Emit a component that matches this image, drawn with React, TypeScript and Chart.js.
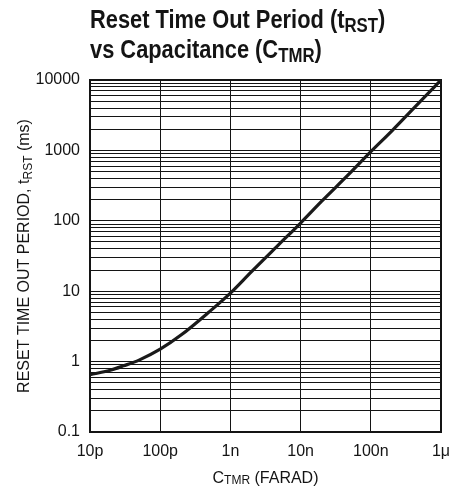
import React, { useEffect, useRef } from 'react';
import { Chart, registerables } from 'chart.js';

Chart.register(...registerables);

// Capacitance C_TMR (F) and reset time-out period t_RST (ms)
const capacitance = [1e-11, 2e-11, 3e-11, 5e-11, 1e-10, 2e-10, 5e-10, 1e-9, 2e-9, 5e-9, 1e-8, 2e-8, 5e-8, 1e-7, 2e-7, 5e-7, 1e-6];
const resetTime = [0.65, 0.76, 0.87, 1.05, 1.5, 2.4, 5.1, 9.4, 19, 47, 93, 190, 470, 960, 1900, 4900, 10000];

const xTickValues = [1e-11, 1e-10, 1e-9, 1e-8, 1e-7, 1e-6];
const xTickLabels = ['10p', '100p', '1n', '10n', '100n', '1μ'];
const yDecades = [0.1, 1, 10, 100, 1000, 10000];
const yTickLabels = ['0.1', '1', '10', '100', '1000', '10000'];
const yMinorSteps = [1, 2, 3, 4, 5, 6, 7, 8, 9];

const FONT = '"Liberation Sans", Arial, sans-serif';
const TITLE_FONT = '"Liberation Sans", Arial, sans-serif';
const INK = '#141414';

type Seg = { t: string; sub?: boolean };

function drawRich(
  ctx: CanvasRenderingContext2D,
  segs: Seg[],
  x: number,
  y: number,
  size: number,
  subSize: number,
  subDrop: number,
  weight: string,
  family: string,
  align: 'left' | 'center',
  sx = 1
) {
  const fm = (s: boolean) => `${weight} ${s ? subSize : size}px ${family}`;
  let total = 0;
  for (const s of segs) {
    ctx.font = fm(!!s.sub);
    total += ctx.measureText(s.t).width;
  }
  ctx.save();
  ctx.translate(x, y);
  ctx.scale(sx, 1);
  let cx = align === 'center' ? -total / 2 : 0;
  ctx.textAlign = 'left';
  ctx.textBaseline = 'alphabetic';
  for (const s of segs) {
    ctx.font = fm(!!s.sub);
    ctx.fillText(s.t, cx, s.sub ? subDrop : 0);
    cx += ctx.measureText(s.t).width;
  }
  ctx.restore();
}

const decorPlugin = {
  id: 'decor',
  beforeDatasetsDraw(chart: any) {
    const { ctx, chartArea: a } = chart;
    ctx.save();
    ctx.strokeStyle = INK;
    ctx.lineWidth = 2;
    ctx.strokeRect(a.left, a.top, a.right - a.left, a.bottom - a.top);
    ctx.restore();
  },
  afterDraw(chart: any) {
    const { ctx, chartArea: a } = chart;
    ctx.save();
    ctx.fillStyle = INK;
    drawRich(ctx, [{ t: 'Reset Time Out Period (t' }, { t: 'RST', sub: true }, { t: ')' }], 90, 28, 26, 20, 4, 'bold', TITLE_FONT, 'left', 0.84);
    drawRich(ctx, [{ t: 'vs Capacitance (C' }, { t: 'TMR', sub: true }, { t: ')' }], 90, 58, 26, 20, 4, 'bold', TITLE_FONT, 'left', 0.84);
    // x axis title
    drawRich(ctx, [{ t: 'C' }, { t: 'TMR', sub: true }, { t: ' (FARAD)' }], (a.left + a.right) / 2, 483, 16, 12, 1, 'normal', FONT, 'center');
    // y axis title
    ctx.translate(29, (a.top + a.bottom) / 2);
    ctx.rotate(-Math.PI / 2);
    drawRich(ctx, [{ t: 'RESET TIME OUT PERIOD, t' }, { t: 'RST', sub: true }, { t: ' (ms)' }], 0, 0, 16, 12, 3, 'normal', FONT, 'center');
    ctx.restore();
  },
};

function isClose(a: number, b: number) {
  return Math.abs(Math.log10(a) - Math.log10(b)) < 1e-6;
}

export default function App() {
  const ref = useRef<HTMLCanvasElement | null>(null);

  useEffect(() => {
    if (!ref.current) return;
    const yTicks: number[] = [];
    yDecades.forEach((d, i) => {
      if (i === yDecades.length - 1) {
        yTicks.push(d);
      } else {
        yMinorSteps.forEach((m) => yTicks.push(+(d * m).toPrecision(6)));
      }
    });

    const chart = new Chart(ref.current, {
      type: 'line',
      data: {
        datasets: [
          {
            data: capacitance.map((c, i) => ({ x: c, y: resetTime[i] })),
            borderColor: '#1a1a1a',
            borderWidth: 3.2,
            pointRadius: 0,
            cubicInterpolationMode: 'monotone',
            fill: false,
          },
        ],
      },
      options: {
        responsive: false,
        animation: false,
        devicePixelRatio: 1,
        layout: { padding: { top: 80, right: 23, left: 0, bottom: 0 } },
        plugins: { legend: { display: false }, tooltip: { enabled: false }, title: { display: false } },
        scales: {
          x: {
            type: 'logarithmic',
            min: 1e-11,
            max: 1e-6,
            afterFit: (s: any) => {
              s.height = 57;
            },
            afterBuildTicks: (s: any) => {
              s.ticks = xTickValues.map((v) => ({ value: v }));
            },
            grid: { color: INK, lineWidth: 1, drawTicks: false },
            border: { display: false },
            ticks: {
              autoSkip: false,
              maxRotation: 0,
              padding: 10,
              color: INK,
              font: { family: FONT, size: 16 },
              callback: (v: any) => {
                const i = xTickValues.findIndex((t) => isClose(t, Number(v)));
                return i >= 0 ? xTickLabels[i] : '';
              },
            },
          },
          y: {
            type: 'logarithmic',
            min: 0.1,
            max: 10000,
            afterFit: (s: any) => {
              s.width = 90;
            },
            afterBuildTicks: (s: any) => {
              s.ticks = yTicks.map((v) => ({ value: v }));
            },
            grid: { color: INK, lineWidth: 1, drawTicks: false },
            border: { display: false },
            ticks: {
              autoSkip: false,
              padding: 10,
              color: INK,
              font: { family: FONT, size: 16 },
              callback: (v: any) => {
                const i = yDecades.findIndex((t) => isClose(t, Number(v)));
                return i >= 0 ? yTickLabels[i] : '';
              },
            },
          },
        },
      },
      plugins: [decorPlugin],
    } as any);

    return () => chart.destroy();
  }, []);

  return (
    <div style={{ position: 'absolute', left: 0, top: 0, width: 464, height: 489, background: '#fff' }}>
      <canvas ref={ref} width={464} height={489} style={{ display: 'block' }} />
    </div>
  );
}
